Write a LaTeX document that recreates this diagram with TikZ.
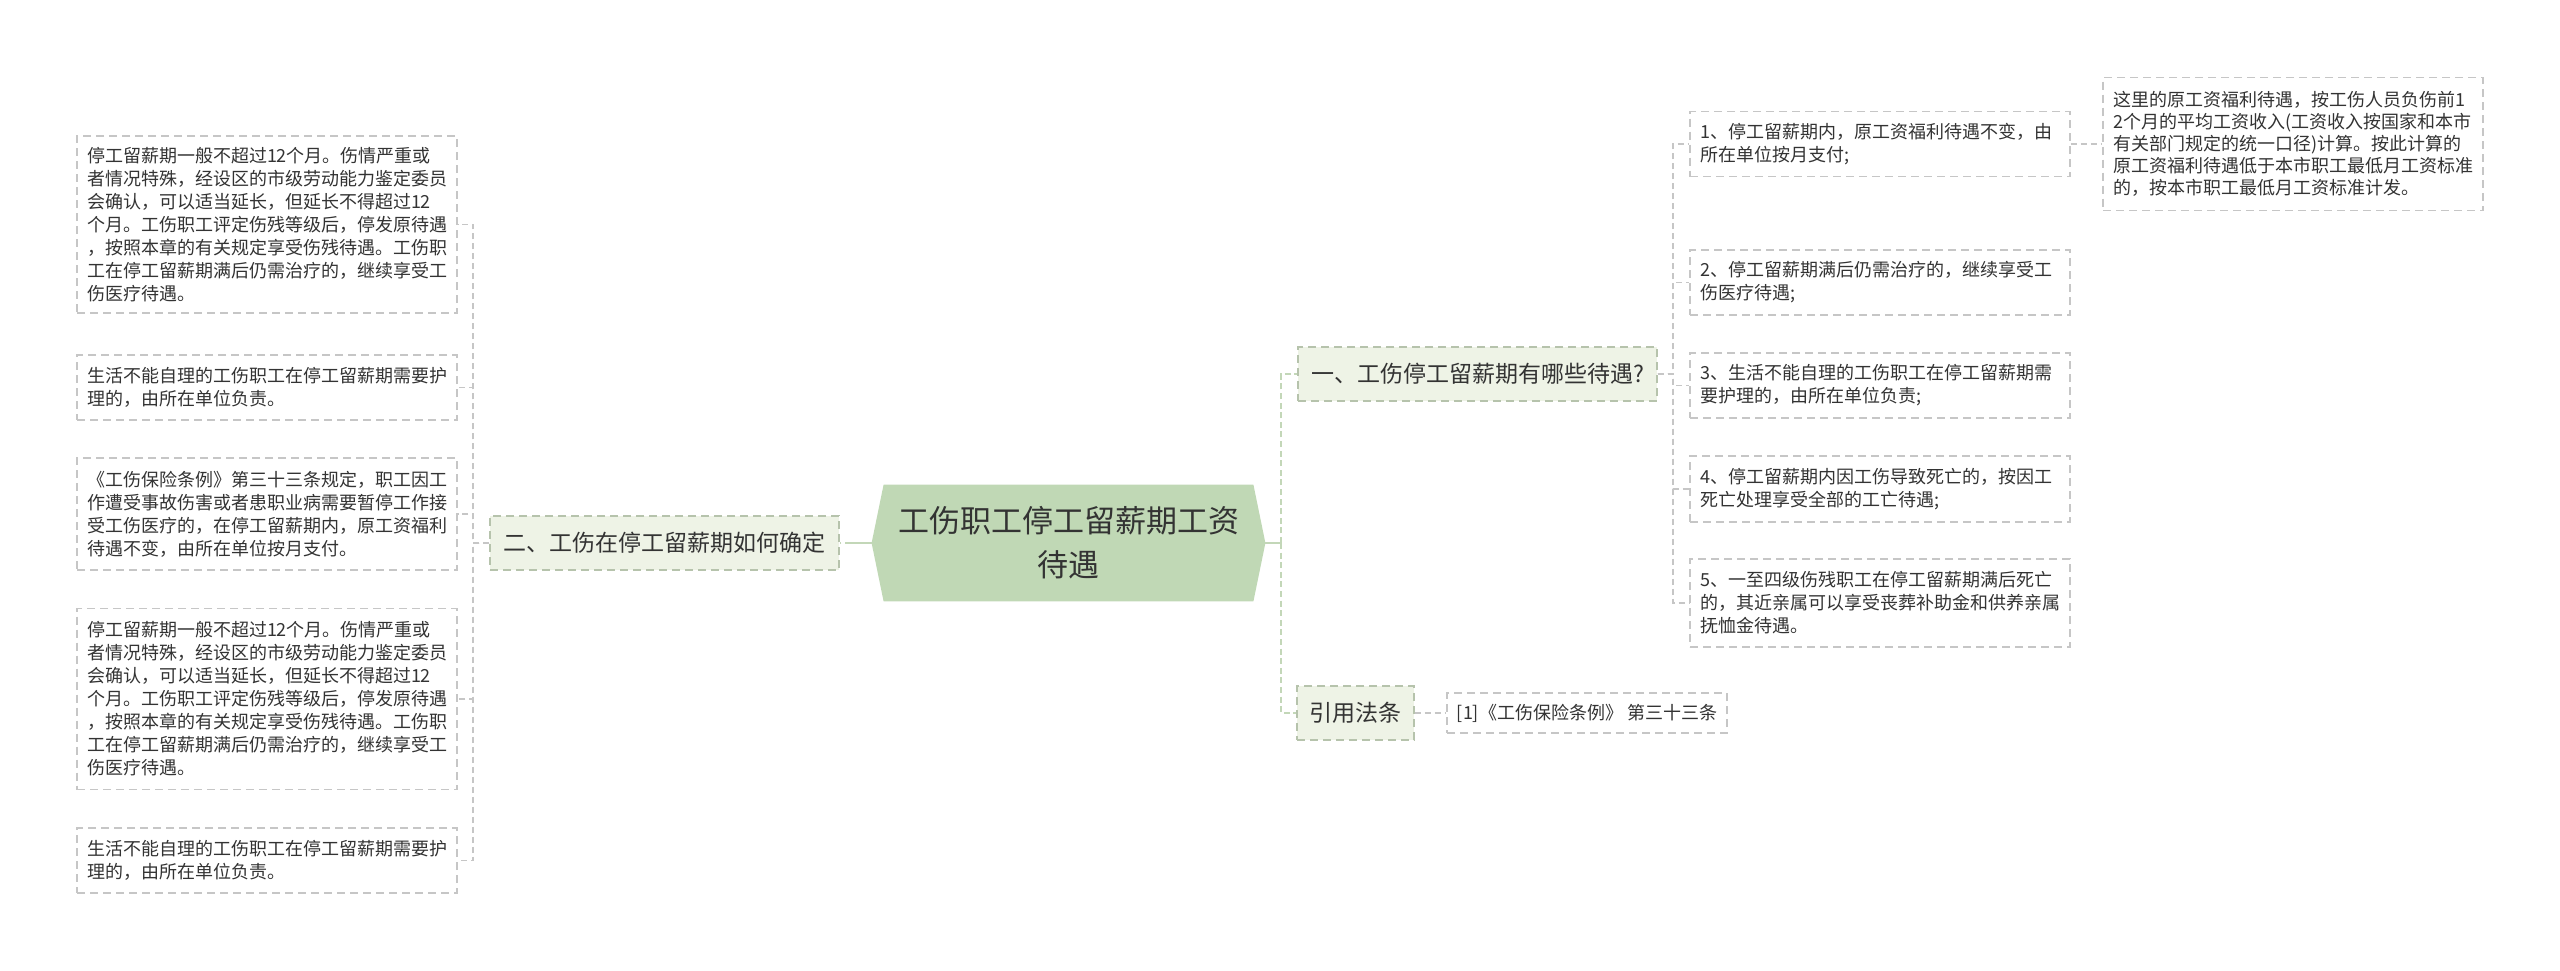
\documentclass[tikz,border=0pt]{standalone}
\usepackage{fontspec}
\setmainfont{Noto Sans CJK SC}
\usetikzlibrary{calc,backgrounds}
\definecolor{txt}{HTML}{333333}
\definecolor{hexfill}{HTML}{C0D8B5}
\definecolor{mainline}{HTML}{C3D7B8}
\definecolor{brfill}{HTML}{EEF3E6}
\definecolor{brborder}{HTML}{B6C3AC}
\definecolor{leafborder}{HTML}{C6C6C6}
\tikzset{
  leafbox/.style={draw=leafborder, line width=0.6pt, dash pattern=on 4pt off 2.5pt,
    fill=white, text=txt, font=\fontsize{9pt}{11.5pt}\selectfont, align=left,
    inner xsep=5pt, inner ysep=0pt, minimum width=190pt, text width=180pt},
  reflbox/.style={draw=leafborder, line width=0.6pt, dash pattern=on 4pt off 2.5pt,
    fill=white, text=txt, font=\fontsize{9pt}{11.5pt}\selectfont,
    inner sep=0pt, minimum width=140pt, minimum height=20pt},
  brbox/.style={draw=brborder, line width=0.6pt, dash pattern=on 4pt off 2.5pt,
    fill=brfill, text=txt, font=\fontsize{11.5pt}{14pt}\selectfont,
    inner sep=0pt, minimum height=27pt},
  centerbox/.style={text=txt, font=\fontsize{15.5pt}{22pt}\selectfont, align=center,
    inner sep=0pt, minimum width=196.5pt, minimum height=58pt},
  mainsolid/.style={draw=mainline, line width=1.4pt},
  maindash/.style={draw=mainline, line width=1.4pt, dash pattern=on 3pt off 1.8pt},
  leafline/.style={draw=leafborder, line width=0.6pt, dash pattern=on 3pt off 2pt},
}
\begin{document}
\begin{tikzpicture}[x=0.5pt,y=-0.5pt]
\useasboundingbox (0,0) rectangle (2560,970);

% central
\node[centerbox] (c) at (1068.5,543) {工伤职工停工留薪期工资\\待遇};
\begin{pgfonlayer}{background}
\fill[hexfill] (c.west) -- ($(c.north west)+(12,0)$) -- ($(c.north east)+(-12,0)$)
  -- (c.east) -- ($(c.south east)+(-12,0)$) -- ($(c.south west)+(12,0)$) -- cycle;
\end{pgfonlayer}

% branches
\node[brbox, minimum width=174.5pt] (b2) at (664.5,543) {二、工伤在停工留薪期如何确定};
\node[brbox, minimum width=179.5pt] (b1) at (1477.5,374) {一、工伤停工留薪期有哪些待遇?};
\node[brbox, minimum width=58.5pt] (b3) at (1355.5,713) {引用法条};

% left leaves
\node[leafbox, minimum height=88.5pt] (L1) at (267,224.5) {停工留薪期一般不超过12个月。伤情严重或\\者情况特殊，经设区的市级劳动能力鉴定委员\\会确认，可以适当延长，但延长不得超过12\\个月。工伤职工评定伤残等级后，停发原待遇\\，按照本章的有关规定享受伤残待遇。工伤职\\工在停工留薪期满后仍需治疗的，继续享受工\\伤医疗待遇。};
\node[leafbox, minimum height=32.5pt] (L2) at (267,387.5) {生活不能自理的工伤职工在停工留薪期需要护\\理的，由所在单位负责。};
\node[leafbox, minimum height=56pt] (L3) at (267,514) {《工伤保险条例》第三十三条规定，职工因工\\作遭受事故伤害或者患职业病需要暂停工作接\\受工伤医疗的，在停工留薪期内，原工资福利\\待遇不变，由所在单位按月支付。};
\node[leafbox, minimum height=90.5pt] (L4) at (267,699) {停工留薪期一般不超过12个月。伤情严重或\\者情况特殊，经设区的市级劳动能力鉴定委员\\会确认，可以适当延长，但延长不得超过12\\个月。工伤职工评定伤残等级后，停发原待遇\\，按照本章的有关规定享受伤残待遇。工伤职\\工在停工留薪期满后仍需治疗的，继续享受工\\伤医疗待遇。};
\node[leafbox, minimum height=32.5pt] (L5) at (267,860.5) {生活不能自理的工伤职工在停工留薪期需要护\\理的，由所在单位负责。};

% right leaves
\node[leafbox, minimum height=32.5pt] (R1) at (1880,144) {1、停工留薪期内，原工资福利待遇不变，由\\所在单位按月支付;};
\node[leafbox, minimum height=32.5pt] (R2) at (1880,282.5) {2、停工留薪期满后仍需治疗的，继续享受工\\伤医疗待遇;};
\node[leafbox, minimum height=32.5pt] (R3) at (1880,385.5) {3、生活不能自理的工伤职工在停工留薪期需\\要护理的，由所在单位负责;};
\node[leafbox, minimum height=33pt] (R4) at (1880,489) {4、停工留薪期内因工伤导致死亡的，按因工\\死亡处理享受全部的工亡待遇;};
\node[leafbox, minimum height=44pt] (R5) at (1880,603) {5、一至四级伤残职工在停工留薪期满后死亡\\的，其近亲属可以享受丧葬补助金和供养亲属\\抚恤金待遇。};
\node[leafbox, minimum height=66.5pt, font=\fontsize{9pt}{11pt}\selectfont] (R6) at (2293,144) {这里的原工资福利待遇，按工伤人员负伤前1\\2个月的平均工资收入(工资收入按国家和本市\\有关部门规定的统一口径)计算。按此计算的\\原工资福利待遇低于本市职工最低月工资标准\\的，按本市职工最低月工资标准计发。};
\node[reflbox] (ref) at (1587,713) {[1]《工伤保险条例》 第三十三条};

% junction coordinates
\coordinate (mj) at (1281,543);
\coordinate (lj) at (851,543);
\coordinate (lsp) at (473,543);
\coordinate (rsp) at (1673,374);

% main connectors
\draw[mainsolid] (c.east) -- (mj);
\draw[maindash] (mj) |- (b1.west);
\draw[maindash] (mj) |- (b3.west);
\draw[mainsolid] (c.west) -- (lj);
\draw[maindash] (lj) -- (b2.east);

% left leaf connectors
\foreach \n in {L1,L2,L3,L4,L5}{
  \draw[leafline] (b2.west) -- (lsp) |- (\n.east);
}
% right leaf connectors
\foreach \n in {R1,R2,R3,R4,R5}{
  \draw[leafline] (b1.east) -- (rsp) |- (\n.west);
}
\draw[leafline] (R1.east) -- (R6.west);
\draw[leafline] (b3.east) -- (ref.west);
\end{tikzpicture}
\end{document}
